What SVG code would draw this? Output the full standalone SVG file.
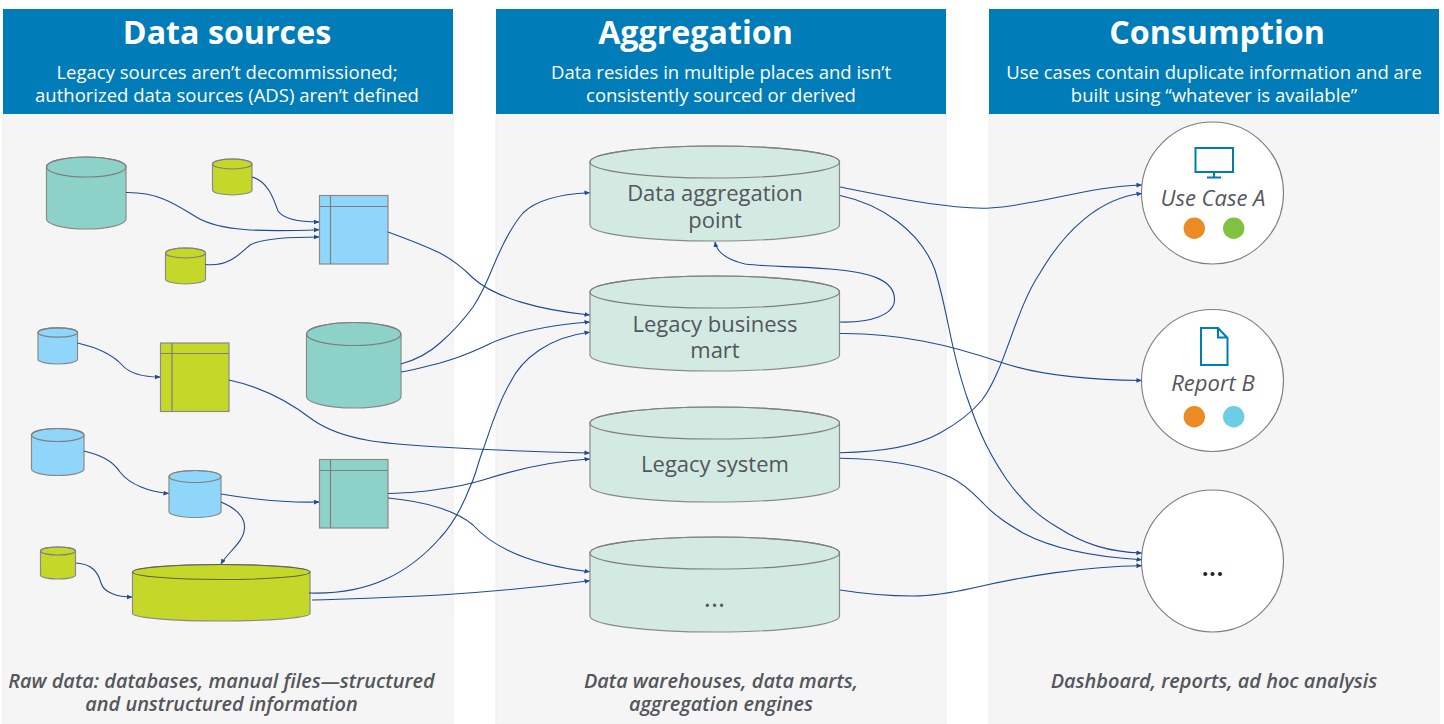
<svg xmlns="http://www.w3.org/2000/svg" width="1444" height="724" viewBox="0 0 1444 724">
<style>
text{font-family:"Open Sans","Noto Sans",sans-serif;text-anchor:middle}
.panel{fill:#f5f5f5;stroke:#eeeeee;stroke-width:1}
.head{fill:#007cb8}
.title{font-size:32.200px;font-weight:700;fill:#fff}
.sub{font-size:18.500px;fill:#fff}
.foot{font-size:19.900px;font-weight:600;font-style:italic;fill:#53565a}
.lbl{font-size:22px;fill:#53565a}
.dots{font-size:27px;font-weight:600}
.it{font-size:22px;font-style:italic;fill:#53565a}
.cy,.sq{stroke:#8a8a8a;stroke-width:1.2}
.teal{fill:#8dd2c9}.olive{fill:#c5d728}.blue{fill:#8fd6fa}.mint{fill:#d2eae2}
.in{fill:none;stroke:#7f7f7f;stroke-width:1.2}
.circ{fill:#fff;stroke:#7d7d7d;stroke-width:1.1}
.ic{fill:none;stroke:#007cb8;stroke-width:2}
#connectors path{fill:none;stroke:#1f4a94;stroke-width:1.1;marker-end:url(#arr)}
</style>
<defs>
<marker id="arr" viewBox="0 0 6 6" refX="5.500" refY="3" markerWidth="5.500" markerHeight="5.500" markerUnits="userSpaceOnUse" orient="auto"><path d="M0,0.400 L6,3 L0,5.600 Z" fill="#1f4a94"/></marker>
</defs>

<g id="panels">
<rect class="panel" x="3" y="114" width="450" height="610"/>
<rect class="panel" x="496" y="114" width="450" height="610"/>
<rect class="panel" x="989" y="114" width="450" height="610"/>
<rect class="head" x="3" y="9" width="450" height="105"/>
<rect class="head" x="496" y="9" width="450" height="105"/>
<rect class="head" x="989" y="9" width="450" height="105"/>
<text class="title" x="227" y="44">Data sources</text>
<text class="sub" x="227" y="78.500">Legacy sources aren’t decommissioned;</text>
<text class="sub" x="227" y="101.500">authorized data sources (ADS) aren’t defined</text>
<text class="title" x="695.500" y="44">Aggregation</text>
<text class="sub" x="721" y="78.500">Data resides in multiple places and isn’t</text>
<text class="sub" x="721" y="101.500">consistently sourced or derived</text>
<text class="title" x="1217" y="44">Consumption</text>
<text class="sub" x="1214" y="78.500">Use cases contain duplicate information and are</text>
<text class="sub" x="1214" y="101.500">built using “whatever is available”</text>
<text class="foot" x="221.500" y="688">Raw data: databases, manual files—structured</text>
<text class="foot" x="221.500" y="711">and unstructured information</text>
<text class="foot" x="721" y="688">Data warehouses, data marts,</text>
<text class="foot" x="721" y="711">aggregation engines</text>
<text class="foot" x="1214" y="688">Dashboard, reports, ad hoc analysis</text>
</g>

<g id="src-teal-large"><path class="cy teal" d="M46.500,167 a39.750,10 0 0 1 79.500,0 V219 a39.750,10 0 0 1 -79.500,0 Z"/><ellipse class="in" cx="86.250" cy="167" rx="39.750" ry="10"/></g>
<g id="src-olive-1"><path class="cy olive" d="M212.500,164 a19.750,5 0 0 1 39.500,0 V190 a19.750,5 0 0 1 -39.500,0 Z"/><ellipse class="in" cx="232.250" cy="164" rx="19.750" ry="5"/></g>
<g id="src-olive-2"><path class="cy olive" d="M165.500,253 a20,5 0 0 1 40,0 V279 a20,5 0 0 1 -40,0 Z"/><ellipse class="in" cx="185.500" cy="253" rx="20" ry="5"/></g>
<g id="src-blue-table"><rect class="sq blue" x="319.500" y="195.500" width="68.500" height="68.500"/><path class="in" d="M330.500,195.500 V264 M319.500,206.500 H388"/></g>
<g id="src-blue-1"><path class="cy blue" d="M38,332.500 a19.750,4.700 0 0 1 39.500,0 V359.300 a19.750,4.700 0 0 1 -39.500,0 Z"/><ellipse class="in" cx="57.750" cy="332.500" rx="19.750" ry="4.700"/></g>
<g id="src-olive-table"><rect class="sq olive" x="160.500" y="343" width="68.500" height="68.500"/><path class="in" d="M172,343 V411.500 M160.500,353.500 H229"/></g>
<g id="src-teal-big"><path class="cy teal" d="M306.500,334 a47.250,11.500 0 0 1 94.500,0 V396.500 a47.250,11.500 0 0 1 -94.500,0 Z"/><ellipse class="in" cx="353.750" cy="334" rx="47.250" ry="11.500"/></g>
<g id="src-blue-2"><path class="cy blue" d="M31.500,435 a26.250,6.500 0 0 1 52.500,0 V469 a26.250,6.500 0 0 1 -52.500,0 Z"/><ellipse class="in" cx="57.750" cy="435" rx="26.250" ry="6.500"/></g>
<g id="src-blue-3"><path class="cy blue" d="M169,476.500 a26,6 0 0 1 52,0 V511.500 a26,6 0 0 1 -52,0 Z"/><ellipse class="in" cx="195" cy="476.500" rx="26" ry="6"/></g>
<g id="src-teal-table"><rect class="sq teal" x="319.500" y="459.500" width="68.500" height="68.500"/><path class="in" d="M330.500,459.500 V528 M319.500,470.500 H388"/></g>
<g id="src-olive-3"><path class="cy olive" d="M40.500,551 a17.500,4 0 0 1 35,0 V575 a17.500,4 0 0 1 -35,0 Z"/><ellipse class="in" cx="58" cy="551" rx="17.500" ry="4"/></g>
<g id="src-olive-wide"><path class="cy olive" d="M132.500,572 a88.750,7.500 0 0 1 177.500,0 V613.500 a88.750,7.500 0 0 1 -177.500,0 Z"/><ellipse cx="221.250" cy="572" rx="88.750" ry="7.500" fill="none" stroke="#5f6340" stroke-width="1.1"/></g>

<g id="agg-data-aggregation"><path class="cy mint" d="M590,162 a124.750,16 0 0 1 249.500,0 V225 a124.750,16 0 0 1 -249.500,0 Z"/><ellipse class="in" cx="714.750" cy="162" rx="124.750" ry="16"/><text class="lbl" x="715" y="201">Data aggregation</text><text class="lbl" x="715" y="228">point</text></g>
<g id="agg-legacy-mart"><path class="cy mint" d="M590,292 a124.750,16 0 0 1 249.500,0 V355 a124.750,16 0 0 1 -249.500,0 Z"/><ellipse class="in" cx="714.750" cy="292" rx="124.750" ry="16"/><text class="lbl" x="715" y="332">Legacy business</text><text class="lbl" x="715" y="358">mart</text></g>
<g id="agg-legacy-system"><path class="cy mint" d="M590,423 a124.750,16 0 0 1 249.500,0 V486 a124.750,16 0 0 1 -249.500,0 Z"/><ellipse class="in" cx="714.750" cy="423" rx="124.750" ry="16"/><text class="lbl" x="715" y="472">Legacy system</text></g>
<g id="agg-more"><path class="cy mint" d="M590,553 a124.750,16 0 0 1 249.500,0 V616 a124.750,16 0 0 1 -249.500,0 Z"/><ellipse class="in" cx="714.750" cy="553" rx="124.750" ry="16"/><text class="lbl dots" x="714.500" y="607" style="font-weight:400">...</text></g>

<g id="use-case-a"><circle class="circ" cx="1212.500" cy="193" r="71"/><rect class="ic" x="1195.500" y="148" width="37.500" height="24"/><path class="ic" d="M1214,172 V177.500 M1207,177.500 H1221"/><text class="it" x="1213" y="206">Use Case A</text><circle cx="1194.300" cy="228.300" r="10.700" fill="#ec8b23"/><circle cx="1233.700" cy="228.300" r="10.700" fill="#7fc241"/></g>
<g id="report-b"><circle class="circ" cx="1212.500" cy="380.500" r="71"/><path class="ic" d="M1201,328 H1218 L1227.500,338 V365 H1201 Z M1218,328 V337.500 H1227.500"/><text class="it" x="1213" y="391">Report B</text><circle cx="1194.300" cy="416.700" r="10.700" fill="#ec8b23"/><circle cx="1233.700" cy="416.700" r="10.700" fill="#6ecce4"/></g>
<g id="consumption-more"><circle class="circ" cx="1212.500" cy="561" r="71"/><text class="lbl dots" x="1212.500" y="575.500" style="fill:#222">...</text></g>

<g id="connectors">
<path d="M126,192.500 C160,192 178,206 197,217.500 C220,231 260,232 319,229.700"/>
<path d="M252,177 C268,181 274,200 278,211 C284,220 300,222 319,222"/>
<path d="M205.500,264.500 C228,267 240,254 250,245 C262,238 290,237 319,237"/>
<path d="M388,232 C410,240 425,246 440,253 C455,261 465,270 473,278 C495,298 540,310 589.500,315"/>
<path d="M401,364 C415,360 428,354 440,343 C455,330 465,318 473,307 C483,292 488,279 493,267 C500,250 510,228 523,213 C537,199 560,194 589.500,192.700"/>
<path d="M401,372 C415,370 428,366 440,363 C458,358 470,353 483,347 C510,333 550,325 589.500,322"/>
<path d="M229,380 C262,387 290,402 313,420 C345,442 390,444 440,447 C490,450 540,452 589.500,453"/>
<path d="M77.500,343 C95,347 112,354 122,365 C130,374 145,377 160,377"/>
<path d="M84,451 C100,455 112,460 120,472 C130,485 150,492 168.500,493.500"/>
<path d="M221,494 C250,499 280,503 319,502"/>
<path d="M221,502 C240,510 245,520 244.500,528 C244,542 228,552 221,564"/>
<path d="M76,563 C92,564 98,572 101,583 C104,593 118,597 132,597"/>
<path d="M309,593 C370,595 410,572 440,538 C455,522 463,505 470,487 C476,475 478,462 483,450 C490,430 498,403 510,383 C522,358 550,337 589.500,332.300"/>
<path d="M312,600 C360,599 400,597 440,595 C490,592 540,587 589.500,580.700"/>
<path d="M388,493.500 C405,493 425,492 440,489 C455,487 470,484 483,480 C520,468 555,461 589.500,459"/>
<path d="M388,498 C410,500 425,503 440,508 C455,513 465,518 473,525 C500,555 550,567 589.500,571.700"/>
<path d="M840,187 C880,195 950,210 990,208 C1040,205 1090,186 1141.500,185"/>
<path d="M840,195.500 C880,204 920,230 935,270 C950,320 950,350 968,400 C980,435 990,455 1007,480 C1025,505 1040,517 1057,527 C1085,545 1110,552 1141.500,553"/>
<path d="M840,322 C870,323 894,315 894.500,300 C895,280 870,272 830,269 C790,266 770,267 745,264 C728,260 717,253 715,242"/>
<path d="M840,333.500 C900,333 950,345 1000,362 C1040,376 1090,380 1141.500,380.500"/>
<path d="M840,452.700 C880,452 915,447 940,433 C960,422 972,412 982,400 C1005,370 1015,310 1040,273 C1065,230 1100,198 1141.500,193.500"/>
<path d="M840,458.300 C880,459 920,464 950,477 C965,484 975,495 983,503 C995,516 1008,524 1023,533 C1055,550 1095,557 1141.500,559.700"/>
<path d="M840,590 C865,594 890,596 913,596 C935,596 955,592 973,588 C1020,577 1085,566 1141.500,565.700"/>
</g>
</svg>
